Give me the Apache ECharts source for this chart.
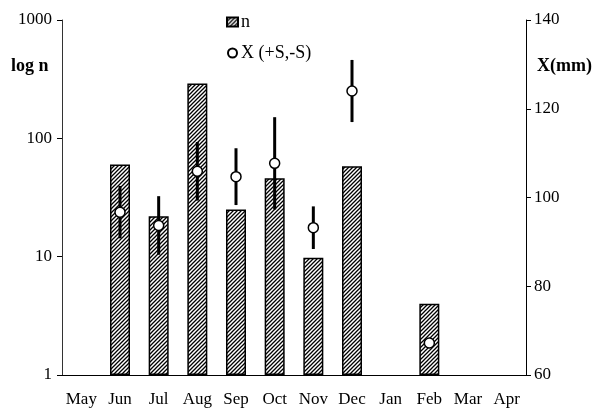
<!DOCTYPE html>
<html>
<head>
<meta charset="utf-8">
<script src="https://cdn.jsdelivr.net/npm/echarts@6/dist/echarts.min.js"></script>
<style>
html,body{margin:0;padding:0;background:#fff;}
#c{width:596px;height:408px;}
</style>
</head>
<body>
<div id="c"></div>
<script>
const months = ['May','Jun','Jul','Aug','Sep','Oct','Nov','Dec','Jan','Feb','Mar','Apr'];
const nValues = ['-', 60, 22, 290, 25, 46, 9.8, 58, '-', 4, '-', '-'];
const xMean = ['-', 96.7, 93.7, 105.9, 104.7, 107.7, 93.2, 124.0, '-', 67.2, '-', '-'];
const xSd = [null, 5.9, 6.6, 6.6, 6.4, 10.4, 4.8, 7.0, null, null, null, null];
const leftTicks = [1, 10, 100, 1000];
const rightTicks = [60, 80, 100, 120, 140];

const FONT = '"Liberation Serif", "Times New Roman", serif';

// hatch pattern
const pc = document.createElement('canvas');
pc.width = 4; pc.height = 4;
const ctx = pc.getContext('2d');
ctx.fillStyle = '#fff';
ctx.fillRect(0, 0, 4, 4);
ctx.strokeStyle = '#000';
ctx.lineWidth = 1.3;
ctx.beginPath();
ctx.moveTo(0, 4); ctx.lineTo(4, 0);
ctx.moveTo(-1, 1); ctx.lineTo(1, -1);
ctx.moveTo(3, 5); ctx.lineTo(5, 3);
ctx.stroke();
const hatch = { image: pc, repeat: 'repeat' };

const errData = [];
months.forEach((m, i) => {
  if (xSd[i] != null && xMean[i] !== '-') {
    errData.push([i, xMean[i] - xSd[i], xMean[i] + xSd[i]]);
  }
});

const chart = echarts.init(document.getElementById('c'), null, { renderer: 'canvas' });
chart.setOption({
  animation: false,
  backgroundColor: '#fff',
  textStyle: { fontFamily: FONT, color: '#000' },
  grid: { left: 62, right: 70, top: 20, bottom: 33, containLabel: false },
  legend: {
    orient: 'vertical',
    left: 221,
    top: 8,
    itemGap: 13,
    itemWidth: 11,
    itemHeight: 9,
    textStyle: { fontFamily: FONT, fontSize: 18, color: '#000', padding: [0, 0, 0, -2] },
    data: [
      { name: 'n', icon: 'rect' },
      { name: 'X (+S,-S)', icon: 'circle' }
    ]
  },
  xAxis: {
    type: 'category',
    data: months,
    boundaryGap: true,
    axisLine: { lineStyle: { color: '#000', width: 1 } },
    axisTick: { show: false },
    axisLabel: { fontFamily: FONT, fontSize: 17, color: '#000', margin: 16, interval: 0 },
    splitLine: { show: false }
  },
  yAxis: [
    {
      type: 'log',
      logBase: 10,
      min: leftTicks[0],
      max: leftTicks[leftTicks.length - 1],
      position: 'left',
      axisLine: { show: true, lineStyle: { color: '#333', width: 1 } },
      axisTick: { show: true, length: 5, lineStyle: { color: '#000' } },
      axisLabel: { fontFamily: FONT, fontSize: 17, color: '#000', margin: 10, formatter: function (v) { return String(Math.round(v)); } },
      splitLine: { show: false },
      minorTick: { show: false }
    },
    {
      type: 'value',
      min: rightTicks[0],
      max: rightTicks[rightTicks.length - 1],
      interval: 20,
      position: 'right',
      axisLine: { show: true, lineStyle: { color: '#000', width: 1 } },
      axisTick: { show: true, length: 5, lineStyle: { color: '#000' } },
      axisLabel: { fontFamily: FONT, fontSize: 17, color: '#000', margin: 8 },
      splitLine: { show: false }
    }
  ],
  graphic: [
    { type: 'text', left: 11, top: 57, style: { text: 'log n', font: 'bold 18px ' + FONT, fill: '#000' } },
    { type: 'text', left: 537, top: 57, style: { text: 'X(mm)', font: 'bold 18px ' + FONT, fill: '#000' } }
  ],
  series: [
    {
      name: 'n',
      type: 'bar',
      yAxisIndex: 0,
      data: nValues,
      barWidth: 20,
      itemStyle: { color: hatch, borderColor: '#000', borderWidth: 1.5 },
      z: 2
    },
    {
      name: 'err',
      type: 'custom',
      yAxisIndex: 1,
      data: errData,
      encode: { x: 0, y: [1, 2] },
      renderItem: function (params, api) {
        const x = api.value(0);
        const lo = api.coord([x, api.value(1)]);
        const hi = api.coord([x, api.value(2)]);
        return {
          type: 'line',
          shape: { x1: lo[0], y1: lo[1], x2: hi[0], y2: hi[1] },
          style: { stroke: '#000', lineWidth: 3 }
        };
      },
      z: 3
    },
    {
      name: 'X (+S,-S)',
      type: 'scatter',
      yAxisIndex: 1,
      data: xMean,
      symbol: 'circle',
      symbolSize: 10,
      itemStyle: { color: '#fff', borderColor: '#000', borderWidth: 1.5, opacity: 1 },
      z: 4
    }
  ]
});
</script>
</body>
</html>
